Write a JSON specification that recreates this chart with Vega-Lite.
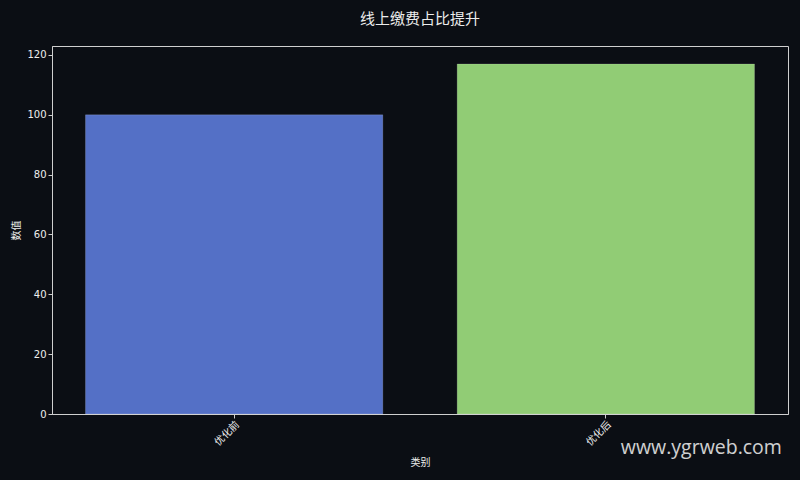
{
  "$schema": "https://vega.github.io/schema/vega-lite/v6.json",
  "width": 736,
  "height": 368,
  "padding": {"left": 52, "top": 46, "right": 12, "bottom": 66},
  "autosize": {"type": "none"},
  "background": "#0b0e14",
  "title": {
    "text": "线上缴费占比提升",
    "font": "Noto Sans CJK SC",
    "fontSize": 15,
    "fontWeight": "normal",
    "color": "#ececec",
    "anchor": "middle",
    "offset": 19
  },
  "data": {
    "values": [
      {"类别": "优化前", "数值": 100},
      {"类别": "优化后", "数值": 117}
    ]
  },
  "layer": [
    {
      "mark": {"type": "bar", "stroke": "#ffffff", "strokeOpacity": 0.25, "strokeWidth": 0.6},
      "encoding": {
        "x": {
          "field": "类别",
          "type": "nominal",
          "sort": null,
          "scale": {"paddingInner": 0.2, "paddingOuter": 0.09},
          "axis": {"title": "类别", "labelAngle": -45, "labelAlign": "right", "labelBaseline": "top", "labelPadding": 1}
        },
        "y": {
          "field": "数值",
          "type": "quantitative",
          "scale": {"domain": [0, 123], "nice": false},
          "axis": {"title": "数值", "values": [0, 20, 40, 60, 80, 100, 120]}
        },
        "color": {
          "field": "类别",
          "type": "nominal",
          "sort": null,
          "scale": {"domain": ["优化前", "优化后"], "range": ["#5470c6", "#91cc75"]},
          "legend": null
        }
      }
    },
    {
      "data": {"values": [{"text": "www.ygrweb.com", "x": "优化后", "y": -11.4}]},
      "mark": {"type": "text", "align": "left", "baseline": "middle", "dx": 15, "clip": false, "font": "Open Sans", "fontSize": 19.5, "color": "#e6e6e6", "opacity": 0.9},
      "encoding": {
        "x": {"field": "x", "type": "nominal"},
        "y": {"field": "y", "type": "quantitative"},
        "text": {"field": "text"}
      }
    }
  ],
  "config": {
    "view": {"stroke": "#cfcfcf", "strokeWidth": 1},
    "font": "Noto Sans CJK SC",
    "axis": {
      "domainColor": "#cfcfcf",
      "tickColor": "#cfcfcf",
      "tickSize": 4,
      "labelColor": "#eeeeee",
      "labelFont": "DejaVu Sans",
      "labelFontSize": 10,
      "labelPadding": 2,
      "titleColor": "#eeeeee",
      "titleFont": "Noto Sans CJK SC",
      "titleFontSize": 10,
      "titleFontWeight": "normal",
      "grid": false
    },
    "axisX": {"labelFont": "Noto Sans CJK SC", "titlePadding": 10},
    "axisY": {"titlePadding": 5}
  }
}
